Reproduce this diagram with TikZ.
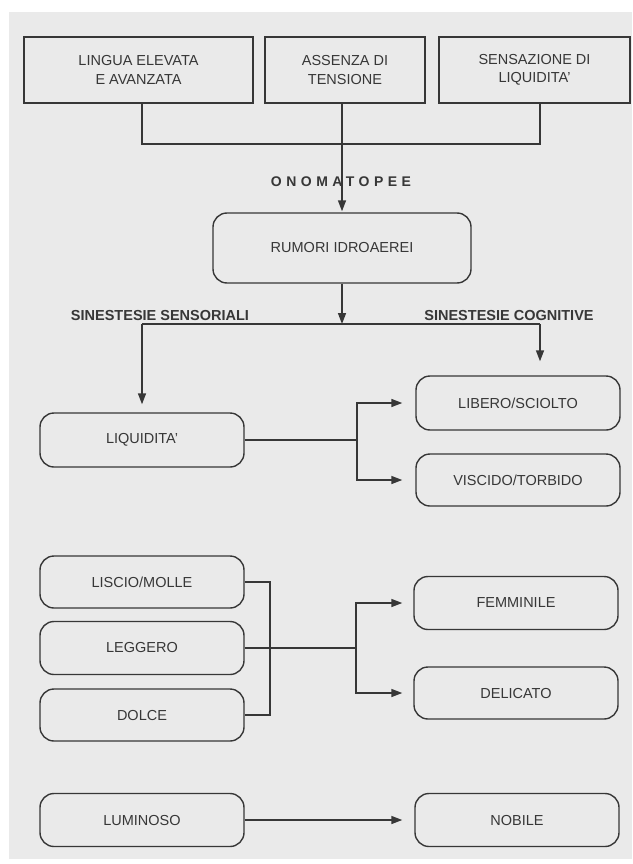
\documentclass[tikz,border=0pt]{standalone}
\usepackage{fontspec}
\setmainfont{Liberation Sans}
\usetikzlibrary{arrows.meta}
\definecolor{paper}{RGB}{234,234,234}
\definecolor{ink}{RGB}{55,55,55}
\tikzstyle{topbox}=[rectangle, draw=ink, line width=2.4pt, minimum height=66pt, inner sep=0pt, align=center, text=ink, font=\fontsize{14.5}{18.5}\selectfont]
\tikzstyle{rbox}=[rectangle, rounded corners=14pt, draw=ink, line width=1.4pt, minimum width=204pt, minimum height=53pt, inner sep=0pt, text=ink, font=\fontsize{14.5}{18}\selectfont]
\tikzstyle{head}=[text=ink, inner sep=0pt, font=\bfseries\fontsize{14.5}{18}\selectfont]
\tikzstyle{wire}=[draw=ink, line width=1.5pt]
\tikzstyle{arr}=[wire, -{Triangle[length=11pt, width=8pt]}]

\begin{document}
\begin{tikzpicture}[x=1pt, y=-1pt]
    \useasboundingbox (0,0) rectangle (632,864);
    \fill[white] (0,0) rectangle (632,864);
    \fill[paper] (9,12) rectangle (632,859);
    \node[topbox, minimum width=229pt] (lingua) at (138.5,70) {LINGUA ELEVATA\\E AVANZATA};
    \node[topbox, minimum width=160pt] (assenza) at (345,70) {ASSENZA DI\\TENSIONE};
    \node[topbox, minimum width=191pt] (sensazione) at (534.5,70) {SENSAZIONE DI\\LIQUIDITA'};
    \node[rbox, minimum width=258pt, minimum height=70pt] (rumori) at (342,248) {RUMORI IDROAEREI};
    \node[rbox, minimum height=54pt] (liquidita) at (142,440) {LIQUIDITA'};
    \node[rbox, minimum height=54pt] (libero) at (518,403) {LIBERO/SCIOLTO};
    \node[rbox, minimum height=52pt] (viscido) at (518,480) {VISCIDO/TORBIDO};
    \node[rbox, minimum height=52pt] (liscio) at (142,582) {LISCIO/MOLLE};
    \node[rbox] (leggero) at (142,648) {LEGGERO};
    \node[rbox, minimum height=52pt] (dolce) at (142,715) {DOLCE};
    \node[rbox] (femminile) at (516,603) {FEMMINILE};
    \node[rbox, minimum height=52pt] (delicato) at (516,693) {DELICATO};
    \node[rbox] (luminoso) at (142,820) {LUMINOSO};
    \node[rbox] (nobile) at (517,820) {NOBILE};
    \coordinate (cl) at (142,144);
    \coordinate (cr) at (540,144);
    \coordinate (ml) at (142,324);
    \coordinate (mm) at (342,324);
    \coordinate (mr) at (540,324);
    \coordinate (jliq) at (357,440);
    \coordinate (jb) at (270,648);
    \coordinate (jleg) at (356,648);
    \draw[wire] (lingua.south -| cl) -- (cl) -- (cr) -- (sensazione.south -| cr);
    \draw[arr, shorten >=1pt] (assenza.south -| rumori.north) -- (rumori.north);
    \node[head, font=\bfseries\fontsize{14}{18}\selectfont\addfontfeatures{LetterSpace=32}] (onom) at (341,182) {ONOMATOPEE};
    \draw[arr] (rumori.south) -- (mm);
    \draw[wire] (ml) -- (mr);
    \node[head] (sens) at (160,316) {SINESTESIE SENSORIALI};
    \node[head] (cogn) at (509,316) {SINESTESIE COGNITIVE};
    \draw[arr, shorten >=8pt] (ml) -- (liquidita.north);
    \draw[arr, shorten >=14pt] (mr) -- (mr |- libero.north);
    \draw[wire] (liquidita.east) -- (jliq);
    \draw[arr, shorten >=13pt] (jliq) |- (libero.west);
    \draw[arr, shorten >=13pt] (jliq) |- (viscido.west);
    \draw[wire] (liscio.east) -| (jb) |- (dolce.east);
    \draw[wire] (leggero.east) -- (jleg);
    \draw[arr, shorten >=11pt] (jleg) |- (femminile.west);
    \draw[arr, shorten >=11pt] (jleg) |- (delicato.west);
    \draw[arr, shorten >=12pt] (luminoso.east) -- (nobile.west);
\end{tikzpicture}
\end{document}
